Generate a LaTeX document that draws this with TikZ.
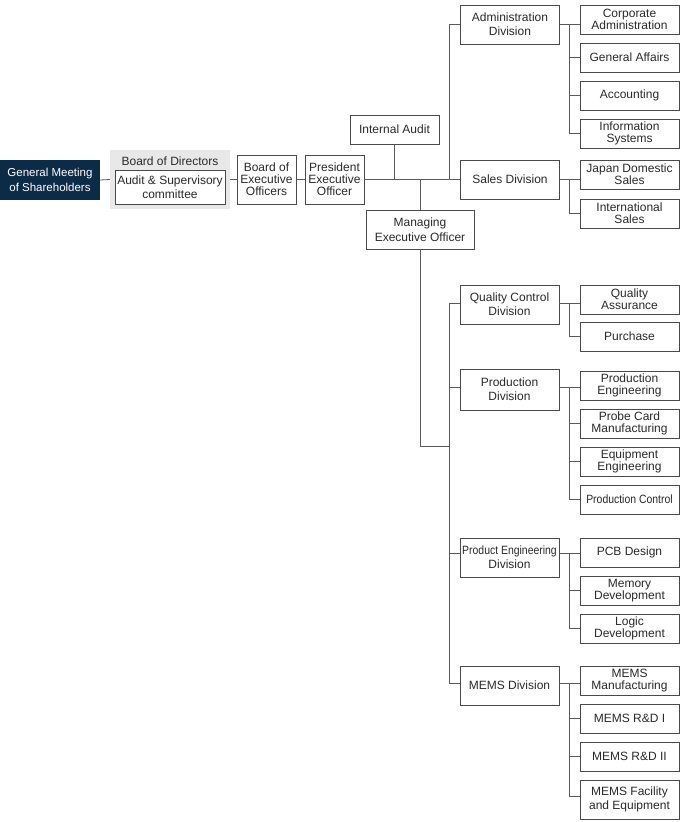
\documentclass[tikz,border=0pt]{standalone}
\usepackage{fontspec}
\setmainfont{Liberation Sans}
\usepackage{graphicx}
\definecolor{navy}{HTML}{0C2B47}
\definecolor{bggray}{HTML}{E8E8E8}
\definecolor{boxc}{HTML}{4A4A4A}
\definecolor{lnc}{HTML}{5A5A5A}
\definecolor{txt}{HTML}{2A2A2A}
\begin{document}
\begin{tikzpicture}[x=1pt,y=-1pt,
  box/.style={draw=boxc, line width=0.8pt, fill=white, inner sep=0pt, align=center, text=txt,
    font=\fontsize{12}{11.8}\selectfont},
  divbox/.style={box, minimum width=99pt, minimum height=39pt, font=\fontsize{12}{13.7}\selectfont},
  subbox/.style={box, minimum width=99pt, minimum height=29pt},
  ln/.style={draw=lnc, line width=0.8pt}
]
\useasboundingbox (0,0) rectangle (680,822);
% left chain
\node[fill=navy, text=white, minimum width=100pt, minimum height=40pt, inner sep=0pt, align=center,
  font=\fontsize{11.5}{14.5}\selectfont] (gm) at (50,180) {General Meeting\\of Shareholders};
\node[fill=bggray, minimum width=120pt, minimum height=59pt, inner sep=0pt] (bod) at (170,179.5) {};
\node[text=txt, inner sep=0pt, font=\fontsize{12}{12}\selectfont] (bodl) at (170,161) {Board of Directors};
\node[box, minimum width=110pt, minimum height=34pt, font=\fontsize{12}{14}\selectfont] (audit) at (170,187) {Audit \& Supervisory\\committee};
\node[box, minimum width=59pt, minimum height=49pt] (beo) at (266.5,179.5) {Board of\\Executive\\Officers};
\node[box, minimum width=59pt, minimum height=49pt] (peo) at (334.5,179.5) {President\\Executive\\Officer};
\node[box, minimum width=89pt, minimum height=29pt] (ia) at (394.5,129.5) {Internal Audit};
\node[box, minimum width=108pt, minimum height=39pt, font=\fontsize{12}{15}\selectfont] (meo) at (420,229.5) {Managing\\Executive Officer};
% divisions
\node[divbox] (adm) at (510,24.5) {Administration\\Division};
\node[divbox] (sales) at (510,179.5) {Sales Division};
\node[divbox] (qc) at (509.5,304.5) {Quality Control\\Division};
\node[divbox, minimum height=41pt] (prod) at (509.5,389.5) {Production\\Division};
\node[divbox] (pe) at (509.5,557.5) {\scalebox{0.87}[1]{Product Engineering}\\Division};
\node[divbox] (mems) at (509.5,685.5) {MEMS Division};
% sections
\node[subbox] (ca) at (629.5,19.5) {Corporate\\Administration};
\node[subbox] (ga) at (629.5,57.5) {General Affairs};
\node[subbox] (acc) at (629.5,95.5) {Accounting};
\node[subbox] (is) at (629.5,133.5) {Information\\Systems};
\node[subbox] (jds) at (629.5,174.5) {Japan Domestic\\Sales};
\node[subbox] (ints) at (629.5,213.5) {International\\Sales};
\node[subbox] (qa) at (629.5,299.5) {Quality\\Assurance};
\node[subbox] (pur) at (629.5,336.5) {Purchase};
\node[subbox] (pen) at (629.5,385.5) {Production\\Engineering};
\node[subbox] (pcm) at (629.5,423.5) {Probe Card\\Manufacturing};
\node[subbox] (ee) at (629.5,461.5) {Equipment\\Engineering};
\node[subbox] (pc) at (629.5,499.5) {\scalebox{0.87}[1]{Production Control}};
\node[subbox] (pcb) at (629.5,552.5) {PCB Design};
\node[subbox] (md) at (629.5,590.5) {Memory\\Development};
\node[subbox] (ld) at (629.5,628.5) {Logic\\Development};
\node[subbox] (mm) at (629.5,680.5) {MEMS\\Manufacturing};
\node[subbox] (mr1) at (629.5,718.5) {MEMS R\&D I};
\node[subbox] (mr2) at (629.5,756.5) {MEMS R\&D II};
\node[subbox, minimum height=39pt, font=\fontsize{12}{14}\selectfont] (mfe) at (629.5,799.5) {MEMS Facility\\and Equipment};
% main chain connectors
\draw[ln] (gm.east) -- (bod.west);
\draw[ln] (bod.east) -- (beo.west);
\draw[ln] (beo.east) -- (peo.west);
\draw[ln] (peo.east) -- (sales.west);
\draw[ln] (ia.south) -- (ia.south |- peo.east);
\draw[ln] (meo.north) -- (meo.north |- peo.east);
\coordinate (ub) at (449,179.5);
\draw[ln] (ub) |- (adm.west);
\coordinate (lb) at (449,446);
\draw[ln] (meo.south) |- (lb);
\draw[ln] ([yshift=1.5pt]qc.west) -- ([yshift=1.5pt]qc.west -| lb) -- ([yshift=2.5pt]mems.west -| lb) -- ([yshift=2.5pt]mems.west);
\draw[ln] ([yshift=2.5pt]prod.west) -- ([yshift=2.5pt]prod.west -| lb);
\draw[ln] ([yshift=4.5pt]pe.west) -- ([yshift=4.5pt]pe.west -| lb);
% section buses
\coordinate (cx) at (569.5,0);
\draw[ln] (adm.east) -- (adm.east -| ca.west);
\draw[ln] (adm.east -| cx) |- (is.west);
\draw[ln] (ga.west) -- (ga.west -| cx);
\draw[ln] (acc.west) -- (acc.west -| cx);
\draw[ln] (sales.east) -- (sales.east -| jds.west);
\draw[ln] (sales.east -| cx) |- (ints.west);
\draw[ln] ([yshift=1.5pt]qc.east) -- ([yshift=1.5pt]qc.east -| qa.west);
\draw[ln] ([yshift=1.5pt]qc.east -| cx) |- (pur.west);
\draw[ln] ([yshift=2.5pt]prod.east) -- ([yshift=2.5pt]prod.east -| pen.west);
\draw[ln] ([yshift=2.5pt]prod.east -| cx) |- (pc.west);
\draw[ln] (pcm.west) -- (pcm.west -| cx);
\draw[ln] (ee.west) -- (ee.west -| cx);
\draw[ln] ([yshift=4.5pt]pe.east) -- ([yshift=4.5pt]pe.east -| pcb.west);
\draw[ln] ([yshift=4.5pt]pe.east -| cx) |- (ld.west);
\draw[ln] (md.west) -- (md.west -| cx);
\draw[ln] ([yshift=2.5pt]mems.east) -- ([yshift=2.5pt]mems.east -| mm.west);
\draw[ln] ([yshift=2.5pt]mems.east -| cx) |- ([yshift=3.5pt]mfe.west);
\draw[ln] (mr1.west) -- (mr1.west -| cx);
\draw[ln] (mr2.west) -- (mr2.west -| cx);
\end{tikzpicture}
\end{document}
